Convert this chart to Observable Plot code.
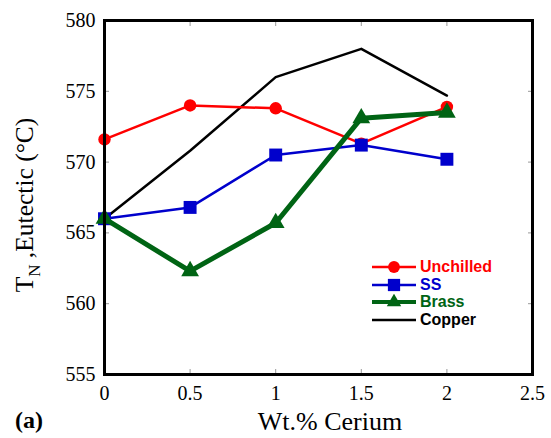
<!DOCTYPE html>
<html>
<head>
<meta charset="utf-8">
<script src="https://cdn.jsdelivr.net/npm/d3@7"></script>
<script src="https://cdn.jsdelivr.net/npm/@observablehq/plot@0.6"></script>
<style>
  body { margin: 0; background: #fff; }
  #wrap { position: relative; width: 551px; height: 438px; }
  #legend { position: absolute; left: 372px; top: 258px; font-family: "Liberation Sans", Arimo, Arial, Helvetica, sans-serif; font-weight: bold; font-size: 16px; }
  .row { display: flex; align-items: center; height: 17.7px; }
  .row svg { margin-right: 4px; }
  svg text { font-family: "Liberation Serif", Tinos, "Times New Roman", Times, "DejaVu Serif", serif; }
</style>
</head>
<body>
<div id="wrap"></div>
<script>
const cerium = [0, 0.5, 1, 1.5, 2];
const unchilled = [571.6, 574.0, 573.8, 571.3, 573.9];
const ss = [566.0, 566.8, 570.5, 571.2, 570.2];
const brass = [566.0, 562.3, 565.7, 573.1, 573.5];
const copper = [566.0, 570.8, 576.0, 578.0, 574.7];
const seriesNames = ["Unchilled", "SS", "Brass", "Copper"];
const xTicks = [0, 0.5, 1, 1.5, 2, 2.5];
const yTicks = [555, 560, 565, 570, 575, 580];

const colors = {Unchilled: "#ff0000", SS: "#0000cc", Brass: "#006414", Copper: "#000000"};
const widths = {Unchilled: 2.5, SS: 2.5, Brass: 5, Copper: 2.5};
const symbols = {Unchilled: "circle", SS: "square", Brass: "triangle", Copper: null};
const radii = {Unchilled: 6.2, SS: 7.3, Brass: 6.6};
const valuesBy = {Unchilled: unchilled, SS: ss, Brass: brass, Copper: copper};
const order = ["Copper", "Unchilled", "SS", "Brass"];

const marks = [];
for (const name of order) {
  const data = cerium.map((c, i) => ({x: c, y: valuesBy[name][i]}));
  marks.push(Plot.line(data, {x: "x", y: "y", stroke: colors[name], strokeWidth: widths[name]}));
  if (symbols[name]) {
    marks.push(Plot.dot(data, {x: "x", y: "y", fill: colors[name], symbol: symbols[name], r: radii[name], stroke: "none"}));
  }
}

const serif = "Liberation Serif, Tinos, Times New Roman, DejaVu Serif, serif";
const plot = Plot.plot({
  width: 551,
  height: 438,
  marginLeft: 104,
  marginRight: 19,
  marginTop: 20,
  marginBottom: 64,
  style: {fontFamily: serif, fontSize: "20px", color: "#000", background: "#fff", overflow: "visible"},
  x: {domain: [0, 2.5], ticks: xTicks},
  y: {domain: [555, 580], ticks: yTicks},
  marks: [
    Plot.axisX({anchor: "bottom", ticks: xTicks, tickSize: 0, tickPadding: 11, label: null, tickFormat: d => String(d), fontSize: 20}),
    Plot.axisX({anchor: "bottom", ticks: xTicks.slice(1, -1), tickSize: -5, stroke: "#999", tickFormat: () => "", label: null}),
    Plot.axisX({anchor: "top", ticks: xTicks.slice(1, -1), tickSize: -5, stroke: "#999", tickFormat: () => "", label: null}),
    Plot.axisY({anchor: "left", ticks: yTicks, tickSize: 0, tickPadding: 9, label: null, tickFormat: d => String(d), fontSize: 20}),
    Plot.axisY({anchor: "left", ticks: yTicks.slice(1, -1), tickSize: -5, stroke: "#999", tickFormat: () => "", label: null}),
    Plot.axisY({anchor: "right", ticks: yTicks.slice(1, -1), tickSize: -5, stroke: "#999", tickFormat: () => "", label: null}),
    ...marks,
    Plot.frame({stroke: "#000", strokeWidth: 3})
  ]
});

const svg = d3.select(plot);
// y-axis label with subscript
const yl = svg.append("text")
  .attr("transform", "translate(33,205) rotate(-90)")
  .attr("text-anchor", "middle")
  .attr("font-size", 25.5)
  .attr("fill", "#000");
yl.append("tspan").text("T");
yl.append("tspan").attr("font-size", 17).attr("dy", 7).text("N");
yl.append("tspan").attr("dy", -7).text(" ,Eutectic (°C)");
// x-axis label
svg.append("text")
  .attr("x", 330).attr("y", 430)
  .attr("text-anchor", "middle")
  .attr("font-size", 26)
  .attr("fill", "#000")
  .text("Wt.% Cerium");
svg.append("text")
  .attr("x", 15).attr("y", 428)
  .attr("text-anchor", "start")
  .attr("font-size", 24)
  .attr("font-weight", "bold")
  .attr("fill", "#000")
  .text("(a)");

const wrap = document.getElementById("wrap");
wrap.appendChild(plot);

// legend
const legend = document.createElement("div");
legend.id = "legend";
for (const name of seriesNames) {
  const row = document.createElement("div");
  row.className = "row";
  const s = d3.create("svg").attr("width", 44).attr("height", 16);
  s.append("line").attr("x1", 0).attr("x2", 44).attr("y1", 8).attr("y2", 8)
    .attr("stroke", colors[name]).attr("stroke-width", name === "Brass" ? 4 : 2.5);
  if (symbols[name]) {
    const sym = {circle: d3.symbolCircle, square: d3.symbolSquare, triangle: d3.symbolTriangle}[symbols[name]];
    const size = {circle: 110, square: 150, triangle: 90}[symbols[name]];
    s.append("path").attr("d", d3.symbol(sym, size)()).attr("transform", "translate(22,8)").attr("fill", colors[name]);
  }
  row.appendChild(s.node());
  const t = document.createElement("span");
  t.textContent = name;
  t.style.color = colors[name];
  row.appendChild(t);
  legend.appendChild(row);
}
wrap.appendChild(legend);
</script>
</body>
</html>
